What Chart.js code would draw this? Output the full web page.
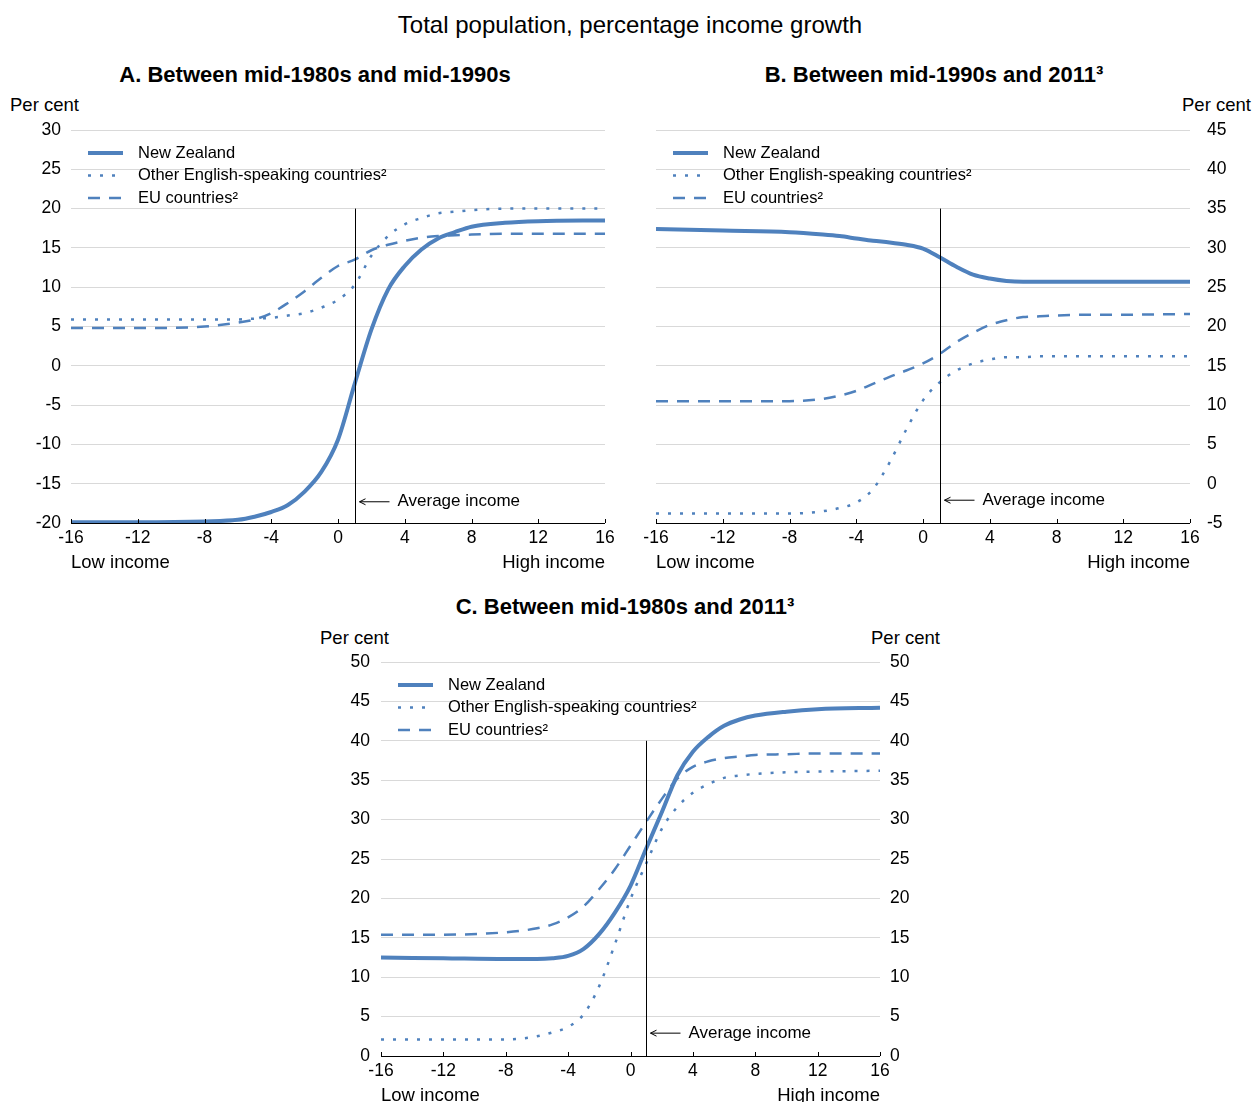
<!DOCTYPE html>
<html>
<head>
<meta charset="utf-8">
<script src="https://cdn.jsdelivr.net/npm/chart.js@4.4.1/dist/chart.umd.min.js"></script>
<style>
  body { margin: 0; background: #fff; }
  #page { position: relative; width: 1253px; height: 1102px; overflow: hidden; font-family: "Liberation Sans", Arial, sans-serif; color: #000; }
  .box { position: absolute; }
  .txt { position: absolute; white-space: nowrap; line-height: 1; }
  .main { font-size: 24px; transform: translate(-50%, -50%); }
  .panel { font-size: 22px; font-weight: bold; transform: translate(-50%, -50%); }
  .unit { font-size: 18.5px; transform: translateY(-50%); }
  .end { font-size: 18.5px; transform: translateY(-50%); }
</style>
</head>
<body>
<div id="page">
  <div class="txt main" style="left:630px; top:25px;">Total population, percentage income growth</div>

  <div class="txt panel" style="left:315px; top:75px;">A. Between mid-1980s and mid-1990s</div>
  <div class="txt panel" style="left:934px; top:75px;">B. Between mid-1990s and 2011³</div>
  <div class="txt panel" style="left:625px; top:607px;">C. Between mid-1980s and 2011³</div>

  <div class="txt unit" style="left:10px; top:105px;">Per cent</div>
  <div class="txt unit" style="left:1182px; top:105px;">Per cent</div>
  <div class="txt unit" style="left:320px; top:638px;">Per cent</div>
  <div class="txt unit" style="left:871px; top:638px;">Per cent</div>

  <div class="box" style="left:0px; top:120px; width:620px; height:460px;"><canvas id="chart-a"></canvas></div>
  <div class="box" style="left:630px; top:120px; width:623px; height:460px;"><canvas id="chart-b"></canvas></div>
  <div class="box" style="left:300px; top:652px; width:640px; height:450px;"><canvas id="chart-c"></canvas></div>

  <div class="txt end" style="left:71px; top:562px;">Low income</div>
  <div class="txt end" style="right:648px; top:562px;">High income</div>
  <div class="txt end" style="left:656px; top:562px;">Low income</div>
  <div class="txt end" style="right:63px; top:562px;">High income</div>
  <div class="txt end" style="left:381px; top:1095px;">Low income</div>
  <div class="txt end" style="right:373px; top:1095px;">High income</div>
</div>

<script>
// income position relative to the average (x axis)
const incomePoints = [-16, -12, -8, -6, -5, -4, -3, -2, -1, 0, 1, 2, 3, 4, 5, 6, 7, 8, 10, 12, 16];
const averageIncome = 1;
const seriesNames = ["New Zealand", "Other English-speaking countries²", "EU countries²"];

// A. mid-1980s to mid-1990s
const nzA = [-19.9, -19.9, -19.8, -19.6, -19.2, -18.6, -17.7, -16.0, -13.5, -9.4, -2.3, 4.6, 9.7, 12.7, 14.8, 16.2, 17.0, 17.7, 18.2, 18.4, 18.5];
const otherA = [5.9, 5.9, 5.9, 5.9, 6.0, 6.1, 6.4, 6.7, 7.4, 8.4, 10.3, 14.0, 16.5, 18.0, 18.8, 19.4, 19.6, 19.8, 20.0, 20.0, 20.0];
const euA = [4.8, 4.8, 5.0, 5.5, 5.9, 6.7, 8.0, 9.5, 11.2, 12.7, 13.5, 14.7, 15.4, 15.9, 16.3, 16.5, 16.6, 16.7, 16.8, 16.8, 16.8];

// B. mid-1990s to 2011
const nzB = [32.4, 32.2, 32.0, 31.7, 31.5, 31.2, 30.9, 30.7, 30.4, 29.9, 28.8, 27.6, 26.6, 26.1, 25.8, 25.7, 25.7, 25.7, 25.7, 25.7, 25.7];
const otherB = [-3.8, -3.8, -3.8, -3.5, -3.1, -2.4, -0.7, 2.7, 6.9, 10.6, 12.9, 14.4, 15.3, 15.8, 16.1, 16.1, 16.2, 16.2, 16.2, 16.2, 16.2];
const euB = [10.5, 10.5, 10.5, 10.8, 11.2, 11.8, 12.7, 13.6, 14.4, 15.3, 16.5, 18.0, 19.2, 20.2, 20.8, 21.2, 21.3, 21.4, 21.5, 21.5, 21.6];

// C. mid-1980s to 2011
const nzC = [12.5, 12.4, 12.3, 12.3, 12.4, 12.7, 13.6, 15.5, 18.2, 21.6, 26.3, 30.9, 35.6, 38.6, 40.5, 41.9, 42.7, 43.2, 43.7, 44.0, 44.2];
const otherC = [2.1, 2.1, 2.1, 2.5, 3.0, 3.7, 5.3, 8.9, 14.2, 19.9, 24.4, 28.8, 31.6, 33.4, 34.5, 35.3, 35.6, 35.8, 36.0, 36.1, 36.2];
const euC = [15.4, 15.4, 15.7, 16.2, 16.7, 17.6, 19.0, 21.2, 23.7, 26.7, 29.7, 32.6, 35.2, 36.7, 37.4, 37.8, 38.0, 38.2, 38.3, 38.4, 38.4];

const blue = "#4f81bd";
const fontName = '"Liberation Sans", Arial, sans-serif';
const lineStyles = [
  { width: 4, dash: [] },
  { width: 2.5, dash: [3, 9] },
  { width: 2.5, dash: [12, 9] },
];

// vertical line at the average income, with the arrow label
const averageLine = {
  id: "averageLine",
  afterDatasetsDraw(chart, args, opts) {
    const ctx = chart.ctx;
    const x = Math.round(chart.scales.x.getPixelForValue(averageIncome)) + 0.5;
    const yTop = chart.scales.y.getPixelForValue(opts.top);
    const yLabel = chart.scales.y.getPixelForValue(opts.labelAt);
    ctx.save();
    ctx.strokeStyle = "#000";
    ctx.lineWidth = 1;
    ctx.beginPath();
    ctx.moveTo(x, yTop);
    ctx.lineTo(x, chart.chartArea.bottom);
    ctx.stroke();
    ctx.beginPath();
    ctx.moveTo(x + 4, yLabel);
    ctx.lineTo(x + 34, yLabel);
    ctx.moveTo(x + 10, yLabel - 3);
    ctx.lineTo(x + 4, yLabel);
    ctx.lineTo(x + 10, yLabel + 3);
    ctx.stroke();
    ctx.fillStyle = "#000";
    ctx.font = "17px " + fontName;
    ctx.textBaseline = "middle";
    ctx.fillText("Average income", x + 42, yLabel);
    ctx.restore();
  },
};

// legend in the top-left corner of the plot
const cornerLegend = {
  id: "cornerLegend",
  afterDraw(chart) {
    const ctx = chart.ctx;
    const left = chart.chartArea.left;
    const top = chart.chartArea.top;
    ctx.save();
    ctx.font = "16.5px " + fontName;
    ctx.textBaseline = "middle";
    seriesNames.forEach((name, i) => {
      const y = top + 23 + i * 22.5;
      ctx.strokeStyle = blue;
      ctx.lineWidth = lineStyles[i].width;
      ctx.setLineDash(lineStyles[i].dash);
      ctx.beginPath();
      ctx.moveTo(left + 17, y);
      ctx.lineTo(left + 52, y);
      ctx.stroke();
      ctx.setLineDash([]);
      ctx.fillStyle = "#000";
      ctx.fillText(name, left + 67, y);
    });
    ctx.restore();
  },
};

// small tick marks pointing up from the x axis, plus the axis line
const innerTicks = {
  id: "innerTicks",
  afterDatasetsDraw(chart) {
    const ctx = chart.ctx;
    const xs = chart.scales.x;
    const bottom = chart.chartArea.bottom;
    ctx.save();
    ctx.strokeStyle = "#000";
    ctx.lineWidth = 1;
    xs.ticks.forEach((t) => {
      const px = Math.round(xs.getPixelForValue(t.value)) + 0.5;
      ctx.beginPath();
      ctx.moveTo(px, bottom);
      ctx.lineTo(px, bottom - 4);
      ctx.stroke();
    });
    ctx.beginPath();
    ctx.moveTo(chart.chartArea.left, bottom + 0.5);
    ctx.lineTo(chart.chartArea.right, bottom + 0.5);
    ctx.stroke();
    ctx.restore();
  },
};

function yAxis(position, min, max, width, padding, grid) {
  return {
    type: "linear",
    position: position,
    min: min,
    max: max,
    ticks: {
      stepSize: 5,
      padding: padding,
      color: "#000",
      font: { family: fontName, size: 17.5 },
    },
    grid: {
      display: grid,
      drawTicks: false,
      color: (c) => (c.tick && c.tick.value === min ? "rgba(0,0,0,0)" : "#d9d9d9"),
    },
    border: { display: false },
    afterFit: (scale) => {
      scale.width = width;
      scale.paddingTop = 0;
      scale.paddingBottom = 0;
    },
  };
}

function createChart(canvasId, nz, other, eu, opt) {
  const values = [nz, other, eu];
  const datasets = values.map((arr, i) => ({
    label: seriesNames[i],
    data: incomePoints.map((x, j) => ({ x: x, y: arr[j] })),
    borderColor: blue,
    borderWidth: lineStyles[i].width,
    borderDash: lineStyles[i].dash,
    pointRadius: 0,
    fill: false,
    cubicInterpolationMode: "monotone",
    order: 3 - i,
  }));

  const scales = {
    x: {
      type: "linear",
      min: -16,
      max: 16,
      ticks: {
        stepSize: 4,
        padding: 5,
        maxRotation: 0,
        color: "#000",
        font: { family: fontName, size: 17.5 },
      },
      grid: { display: false, drawTicks: false },
      border: { display: false },
      afterFit: (scale) => {
        scale.height = opt.xHeight;
      },
    },
  };
  opt.axes.forEach((a) => {
    scales[a.id] = yAxis(a.position, opt.yMin, opt.yMax, a.width, a.padding, a.grid);
  });

  new Chart(document.getElementById(canvasId), {
    type: "line",
    data: { datasets: datasets },
    options: {
      responsive: true,
      maintainAspectRatio: false,
      animation: false,
      layout: { padding: opt.padding },
      scales: scales,
      plugins: {
        legend: { display: false },
        tooltip: { enabled: false },
        averageLine: { top: opt.lineTop, labelAt: opt.labelAt },
      },
    },
    plugins: [innerTicks, averageLine, cornerLegend],
  });
}

createChart("chart-a", nzA, otherA, euA, {
  yMin: -20,
  yMax: 30,
  xHeight: 57,
  padding: { top: 10, right: 15, left: 0, bottom: 0 },
  axes: [{ id: "y", position: "left", width: 71, padding: 10, grid: true }],
  lineTop: 20,
  labelAt: -17.3,
});

createChart("chart-b", nzB, otherB, euB, {
  yMin: -5,
  yMax: 45,
  xHeight: 57,
  padding: { top: 10, right: 0, left: 26, bottom: 0 },
  axes: [{ id: "y", position: "right", width: 63, padding: 17, grid: true }],
  lineTop: 35,
  labelAt: -2.1,
});

createChart("chart-c", nzC, otherC, euC, {
  yMin: 0,
  yMax: 50,
  xHeight: 46,
  padding: { top: 10, right: 0, left: 0, bottom: 0 },
  axes: [
    { id: "y", position: "left", width: 81, padding: 11, grid: true },
    { id: "y2", position: "right", width: 60, padding: 10, grid: false },
  ],
  lineTop: 40,
  labelAt: 2.9,
});
</script>
</body>
</html>
